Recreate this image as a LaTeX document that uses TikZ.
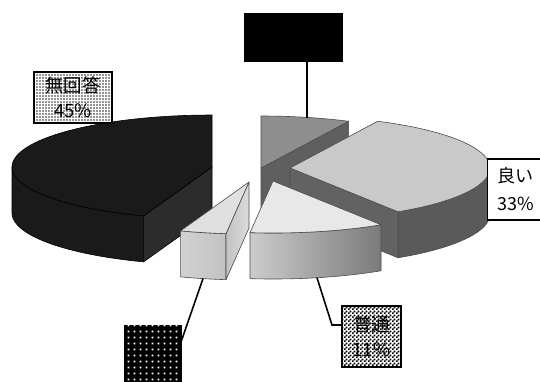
\documentclass[tikz,border=0pt]{standalone}
\usepackage{fontspec}
\setmainfont{Noto Sans CJK JP}
\usetikzlibrary{patterns}
\definecolor{blk}{HTML}{1A1A1A}
\definecolor{sgtop}{HTML}{8E8E8E}
\definecolor{sgcut}{HTML}{5F5F5F}
\definecolor{gdtop}{HTML}{C9C9C9}
\definecolor{gdside}{HTML}{5A5A5A}
\definecolor{nmtop}{HTML}{E8E8E8}
\definecolor{smtop}{HTML}{E0E0E0}
\definecolor{smside}{HTML}{C8C8C8}
\pgfdeclarepatternformonly{blackdots}{\pgfqpoint{0pt}{0pt}}{\pgfqpoint{3pt}{3pt}}{\pgfqpoint{3pt}{3pt}}{\pgfpathrectangle{\pgfqpoint{0.5pt}{0.5pt}}{\pgfqpoint{1.7pt}{1.7pt}}\pgfusepath{fill}}
\pgfdeclarepatternformonly{finechecker}{\pgfqpoint{0pt}{0pt}}{\pgfqpoint{4pt}{4pt}}{\pgfqpoint{4pt}{4pt}}{\pgfpathrectangle{\pgfqpoint{0pt}{0pt}}{\pgfqpoint{2pt}{2pt}}\pgfpathrectangle{\pgfqpoint{2pt}{2pt}}{\pgfqpoint{2pt}{2pt}}\pgfusepath{fill}}
\pgfdeclarepatternformonly{sparsedots}{\pgfqpoint{0pt}{0pt}}{\pgfqpoint{6pt}{6pt}}{\pgfqpoint{6pt}{6pt}}{\pgfpathrectangle{\pgfqpoint{1.8pt}{1.8pt}}{\pgfqpoint{2.2pt}{2.2pt}}\pgfusepath{fill}}
\begin{document}
\begin{tikzpicture}[x=1pt,y=-1pt,
  sedge/.style={draw=black!70, line width=0.6pt, line join=round},
  bedge/.style={draw=black, line width=0.6pt, line join=round},
  leader/.style={draw=black, line width=1.8pt},
  lbl/.style={font=\fontsize{18.5}{25}\selectfont, align=center, text=black, inner sep=0pt},
  dotbox/.style={lbl, draw=black, line width=1.8pt, fill=white, postaction={pattern=blackdots, pattern color=black}},
  checkbox/.style={lbl, draw=black, line width=1.8pt, fill=white, postaction={pattern=finechecker, pattern color=black}},
  darkbox/.style={draw=black, line width=1pt, fill=black, postaction={pattern=sparsedots, pattern color=white}},
  whitebox/.style={draw=black, line width=1.4pt, fill=white, font=\fontsize{18}{28}\selectfont, align=left, inner xsep=10pt, inner ysep=0pt},
  blackbox/.style={draw=black, fill=black, minimum width=98, minimum height=48, inner sep=0pt}]
\useasboundingbox (0,0) rectangle (540,381);
\fill[white] (0,0) rectangle (540,381);

% slice 1: black (no answer)
\path[fill=blk, bedge] plot[domain=110:180, samples=30] ({212+200*cos(\x)},{167+52*sin(\x)}) -- plot[domain=180:110, samples=30] ({212+200*cos(\x)},{213+52*sin(\x)}) -- cycle;
\path[fill=blk!92!white, bedge] (212,167) -- ({212+200*cos(110)},{167+52*sin(110)}) -- ({212+200*cos(110)},{213+52*sin(110)}) -- (212,213) -- cycle;
\path[fill=blk, bedge] (212,167) -- plot[domain=110:270, samples=60] ({212+200*cos(\x)},{167+52*sin(\x)}) -- cycle;

% slice 2: mid gray (top label)
\path[fill=sgcut, sedge] (261,168) -- ({261+200*cos(296)},{168+52*sin(296)}) -- ({261+200*cos(296)},{214+52*sin(296)}) -- (261,214) -- cycle;
\path[fill=sgtop, sedge] (261,168) -- plot[domain=270:296, samples=20] ({261+200*cos(\x)},{168+52*sin(\x)}) -- cycle;

% slice 3: good 33%
\path[fill=gdside, sedge] plot[domain=0:57.3, samples=30] ({290+200*cos(\x)},{168+52*sin(\x)}) -- plot[domain=57.3:0, samples=30] ({290+200*cos(\x)},{214+52*sin(\x)}) -- cycle;
\path[fill=gdside!95!white, sedge] (290,168) -- ({290+200*cos(57.3)},{168+52*sin(57.3)}) -- ({290+200*cos(57.3)},{214+52*sin(57.3)}) -- (290,214) -- cycle;
\path[fill=gdtop, sedge] (290,168) -- plot[domain=296:417.3, samples=60] ({290+200*cos(\x)},{168+52*sin(\x)}) -- cycle;

% slice 4: normal 11%
\path[left color=black!20, right color=black!52, sedge] plot[domain=57.3:96.6, samples=30] ({273+200*cos(\x)},{181+52*sin(\x)}) -- plot[domain=96.6:57.3, samples=30] ({273+200*cos(\x)},{227+52*sin(\x)}) -- cycle;
\path[fill=nmtop, sedge] (273,181) -- plot[domain=57.3:96.6, samples=30] ({273+200*cos(\x)},{181+52*sin(\x)}) -- cycle;

% slice 5: small
\path[left color=black!18, right color=black!24, sedge] plot[domain=96.6:110, samples=15] ({249+200*cos(\x)},{182+52*sin(\x)}) -- plot[domain=110:96.6, samples=15] ({249+200*cos(\x)},{228+52*sin(\x)}) -- cycle;
\path[left color=black!24, right color=black!14, sedge] (249,182) -- ({249+200*cos(96.6)},{182+52*sin(96.6)}) -- ({249+200*cos(96.6)},{228+52*sin(96.6)}) -- (249,228) -- cycle;
\path[fill=smtop, sedge] (249,182) -- plot[domain=96.6:110, samples=15] ({249+200*cos(\x)},{182+52*sin(\x)}) -- cycle;

% labels
\node[blackbox] (ltop) at (293,37) {};
\coordinate (ptop) at (307,117.5);
\draw[leader] (ltop.south -| ptop) -- (ptop);

\node[dotbox, minimum width=78, minimum height=51] (lna) at (73,97.5) {無回答\\45\%};

\node[whitebox, anchor=west, minimum height=61] (lgood) at (487,189.5) {良い\\33\%};

\node[checkbox, minimum width=59, minimum height=61] (lnorm) at (371.5,336.5) {普通\\11\%};
\coordinate (p4) at (317,277.7);
\coordinate (b4) at (332,325);
\draw[leader, line width=1.6pt] (p4) -- (b4) -- (b4 -| lnorm.west);

\node[darkbox, minimum width=57, minimum height=62] (lsmall) at (152.5,356) {};
\coordinate (p5) at (203,278.6);
\coordinate (e5) at (181,342);
\draw[leader, line width=1.6pt] (p5) -- (e5);
\end{tikzpicture}
\end{document}
